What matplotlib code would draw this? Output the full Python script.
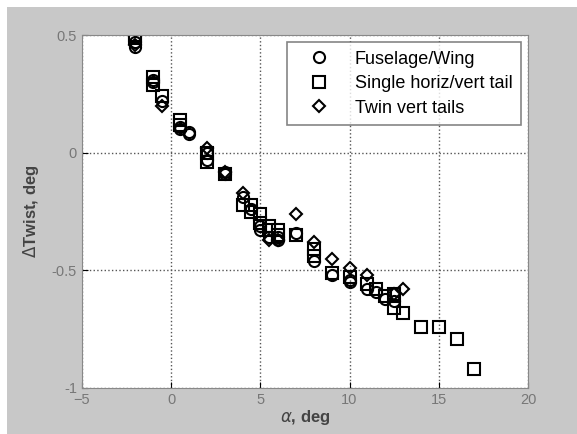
import numpy as np
import matplotlib.pyplot as plt
from matplotlib.patches import Rectangle

plt.rcParams['font.family'] = ['Liberation Sans', 'DejaVu Sans']

# Fuselage/Wing (circles)
fw_alpha = [-2, -2, -1, -1, -0.5, 0.5, 0.5, 1, 1, 2, 2, 3, 3, 4, 4.5, 5, 5, 5.5, 6, 6, 7, 8, 9, 10, 10, 11, 11.5, 12, 12.5]
fw_twist = [0.45, 0.47, 0.30, 0.31, 0.22, 0.10, 0.11, 0.08, 0.09, 0.00, -0.03, -0.08, -0.09, -0.19, -0.24, -0.31, -0.33, -0.36, -0.37, -0.36, -0.34, -0.46, -0.52, -0.55, -0.54, -0.58, -0.59, -0.62, -0.63]

# Single horiz/vert tail (squares)
sh_alpha = [-2, -2, -1, -1, -0.5, 0.5, 0.5, 2, 2, 3, 4, 4.5, 4.5, 5, 5, 5.5, 5.5, 6, 6, 7, 8, 8, 9, 10, 11, 11.5, 12, 12.5, 12.5, 13, 14, 15, 16, 17]
sh_twist = [0.49, 0.50, 0.32, 0.29, 0.24, 0.14, 0.12, 0.00, -0.04, -0.09, -0.22, -0.22, -0.25, -0.26, -0.30, -0.31, -0.33, -0.33, -0.35, -0.35, -0.41, -0.44, -0.51, -0.53, -0.56, -0.58, -0.61, -0.66, -0.60, -0.68, -0.74, -0.74, -0.79, -0.92]

# Twin vert tails (diamonds)
tv_alpha = [-2, -0.5, 2, 3, 4, 5.5, 6, 7, 8, 9, 10, 11, 12.5, 13]
tv_twist = [0.46, 0.20, 0.02, -0.08, -0.17, -0.37, -0.37, -0.26, -0.38, -0.45, -0.49, -0.52, -0.60, -0.58]

fig = plt.figure(figsize=(5.77, 4.34), dpi=100, facecolor='white')
# grey panel with a thin white strip on top and left
fig.patches.append(Rectangle((7 / 577, 0), 1, 1 - 7 / 434, transform=fig.transFigure,
                             facecolor='#c8c8c8', edgecolor='none', zorder=-10))
ax = fig.add_axes([0.142, 0.106, 0.773, 0.813])

mk = dict(linestyle='none', markerfacecolor='none', markeredgecolor='black', markeredgewidth=1.5, markersize=8)
ax.plot(fw_alpha, fw_twist, marker='o', label='Fuselage/Wing', **mk)
ax.plot(sh_alpha, sh_twist, marker='s', label='Single horiz/vert tail', **mk)
ax.plot(tv_alpha, tv_twist, marker='D', label='Twin vert tails', **dict(mk, markersize=6.5))

ax.set_xlim(-5, 20)
ax.set_ylim(-1, 0.5)
ax.set_xticks([-5, 0, 5, 10, 15, 20])
ax.set_yticks([-1, -0.5, 0, 0.5])
ax.set_yticklabels(['-1', '-0.5', '0', '0.5'])
ax.grid(True, linestyle=':', color='#555555', linewidth=1)
ax.tick_params(direction='in', labelsize=10.5, labelcolor='#777777', length=4)
for s in ax.spines.values():
    s.set_color('#888888')

ax.set_xlabel(r'$\alpha$, deg', fontsize=12, fontweight='bold', color='#444444', labelpad=1)
ax.set_ylabel(r'$\Delta$Twist, deg', fontsize=12, fontweight='bold', color='#444444', labelpad=8)

leg = ax.legend(loc='upper right', fontsize=13, frameon=True, fancybox=False,
                edgecolor='#666666', handletextpad=0.7, handlelength=2.6, borderpad=0.45,
                labelspacing=0.42, borderaxespad=0.4)
leg.get_frame().set_linewidth(1.2)

fig.savefig('out.png', dpi=100, facecolor=fig.get_facecolor())
